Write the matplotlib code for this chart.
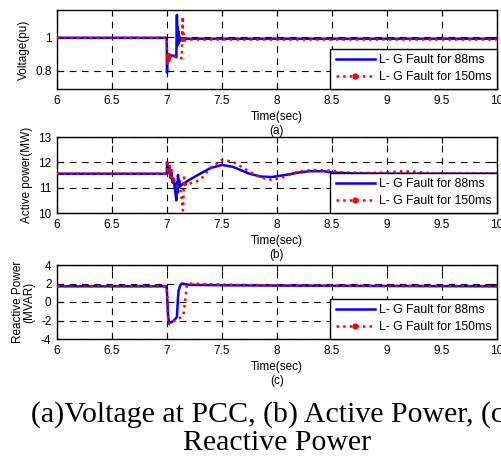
import matplotlib
matplotlib.use("Agg")
import matplotlib.pyplot as plt
from matplotlib.lines import Line2D

# Voltage at PCC (pu)
t_v_88 = [6.0, 6.998, 7.0, 7.004, 7.01, 7.015, 7.02, 7.025, 7.03, 7.04, 7.075, 7.085, 7.09,
          7.094, 7.098, 7.102, 7.106, 7.11, 7.115, 7.12, 7.15, 10.0]
v_88 = [0.995, 0.995, 0.79, 0.90, 0.86, 0.90, 0.87, 0.895, 0.88, 0.89, 0.89, 0.88, 1.13,
        0.95, 1.06, 0.96, 1.03, 0.97, 1.0, 0.98, 0.99, 0.99]
t_v_150 = [6.0, 6.998, 7.0, 7.004, 7.01, 7.015, 7.02, 7.025, 7.03, 7.04, 7.075, 7.135, 7.142,
           7.146, 7.15, 7.155, 7.16, 7.17, 7.2, 10.0]
v_150 = [0.995, 0.995, 0.83, 0.90, 0.85, 0.90, 0.86, 0.89, 0.875, 0.885, 0.885, 0.875, 1.12,
         0.96, 1.02, 0.97, 0.99, 0.98, 0.985, 0.985]

# Active power (MW)
t_p_88 = [6.0, 6.998, 7.0, 7.01, 7.02, 7.03, 7.04, 7.05, 7.06, 7.07, 7.085, 7.09, 7.095, 7.1,
          7.105, 7.11, 7.12, 7.13, 7.2, 7.3, 7.4, 7.5, 7.6, 7.75, 7.85, 7.95, 8.0, 8.1, 8.2,
          8.3, 8.42, 8.5, 8.7, 9.0, 10.0]
p_88 = [11.55, 11.55, 12.0, 11.6, 11.85, 11.4, 11.6, 11.2, 11.35, 11.0, 10.5, 11.2, 10.8, 11.5,
        11.0, 11.3, 11.05, 11.1, 11.3, 11.55, 11.78, 11.9, 11.82, 11.55, 11.44, 11.42, 11.45,
        11.52, 11.6, 11.65, 11.65, 11.6, 11.56, 11.55, 11.55]
t_p_150 = [6.0, 6.998, 7.0, 7.01, 7.02, 7.03, 7.04, 7.05, 7.06, 7.08, 7.1, 7.12, 7.13, 7.145,
           7.155, 7.165, 7.175, 7.2, 7.3, 7.4, 7.5, 7.6, 7.75, 7.85, 7.96, 8.05, 8.2, 8.35,
           8.48, 8.6, 8.8, 9.0, 9.15, 9.25, 9.4, 10.0]
p_150 = [11.55, 11.55, 12.1, 11.7, 11.9, 11.4, 11.7, 11.2, 11.4, 11.1, 11.0, 10.95, 10.7, 10.1,
         11.4, 11.0, 11.2, 11.15, 11.3, 11.8, 12.1, 12.02, 11.63, 11.4, 11.3, 11.4, 11.65,
         11.7, 11.67, 11.6, 11.58, 11.6, 11.65, 11.63, 11.57, 11.56]

# Reactive power (MVAR)
t_q_88 = [6.0, 6.995, 7.0, 7.01, 7.02, 7.04, 7.06, 7.075, 7.09, 7.1, 7.105, 7.12, 7.135, 7.2,
          7.6, 8.5, 10.0]
q_88 = [1.7, 1.7, 1.0, -1.6, -2.25, -2.2, -2.0, -1.85, -1.6, 0.5, 1.2, 1.8, 2.0, 1.85,
        1.8, 1.75, 1.7]
t_q_150 = [6.0, 6.995, 7.0, 7.01, 7.02, 7.04, 7.08, 7.12, 7.15, 7.165, 7.18, 7.19, 7.3, 7.6,
           8.5, 10.0]
q_150 = [1.7, 1.7, 1.0, -1.8, -2.4, -2.3, -1.9, -1.7, -1.4, 0.2, 1.7, 2.0, 1.95, 1.85,
         1.75, 1.7]

x_ticks = [6, 6.5, 7, 7.5, 8, 8.5, 9, 9.5, 10]
x_tick_labels = ["6", "6.5", "7", "7.5", "8", "8.5", "9", "9.5", "10"]

label_88 = "L- G Fault for 88ms"
label_150 = "L- G Fault for 150ms"

plt.rcParams["font.family"] = ["Liberation Sans", "DejaVu Sans"]
plt.rcParams["font.size"] = 8.5

fig = plt.figure(figsize=(5.02, 4.58), dpi=100)
W, H = 502.0, 458.0

def make_axes(top, bottom):
    return fig.add_axes([57 / W, 1 - bottom / H, 440 / W, (bottom - top) / H])

panels = [
    (make_axes(10, 89), t_v_88, v_88, t_v_150, v_150, (0.694, 1.159), [0.8, 1], ["0.8", "1"],
     "Voltage(pu)", "(a)"),
    (make_axes(137, 213), t_p_88, p_88, t_p_150, p_150, (10, 13), [10, 11, 12, 13],
     ["10", "11", "12", "13"], "Active power(MW)", "(b)"),
    (make_axes(265, 339), t_q_88, q_88, t_q_150, q_150, (-4, 4), [-4, -2, 0, 2, 4],
     ["-4", "-2", "0", "2", "4"], "Reactive Power\n(MVAR)", "(c)"),
]

handles = [
    Line2D([], [], color="blue", lw=1.8, linestyle="-"),
    Line2D([], [], color="red", lw=1.8, linestyle=":", marker=".", markersize=7),
]

for ax, ta, ya, tb, yb, ylim, yt, ytl, ylab, tag in panels:
    ax.plot(ta, ya, color="blue", lw=1.8, zorder=3)
    ax.plot(tb, yb, color="red", lw=1.8, linestyle=":", zorder=4)
    ax.set_xlim(6, 10)
    ax.set_ylim(*ylim)
    ax.set_xticks(x_ticks)
    ax.set_xticklabels(x_tick_labels)
    ax.set_yticks(yt)
    ax.set_yticklabels(ytl)
    ax.grid(True, color="black", linestyle=(0, (6, 5)), lw=0.8)
    ax.tick_params(direction="in", top=True, right=True, length=4, width=0.8, pad=4)
    for s in ax.spines.values():
        s.set_linewidth(1.0)
    ax.set_ylabel(ylab, linespacing=0.95, labelpad=4)
    ax.set_xlabel("Time(sec)\n" + tag, linespacing=1.3, labelpad=3)
    leg = ax.legend(handles, [label_88, label_150], loc="lower right", borderaxespad=0,
                    fancybox=False, framealpha=1, edgecolor="black", fontsize=8.8,
                    handlelength=3.2, handletextpad=0.35, labelspacing=0.42, numpoints=1,
                    borderpad=0.45)
    leg.get_frame().set_linewidth(1.0)
    leg.set_zorder(10)

# caption under the panels (first line runs past the right edge, as in the source figure)
fig.text(31 / W, 1 - 422 / H, "(a)Voltage at PCC, (b) Active Power, (c)",
         family=["Liberation Serif", "DejaVu Serif"], fontsize=21.5, ha="left", va="baseline")
fig.text(277 / W, 1 - 450 / H, "Reactive Power",
         family=["Liberation Serif", "DejaVu Serif"], fontsize=21.5, ha="center", va="baseline")

fig.savefig("out.png", dpi=100)
